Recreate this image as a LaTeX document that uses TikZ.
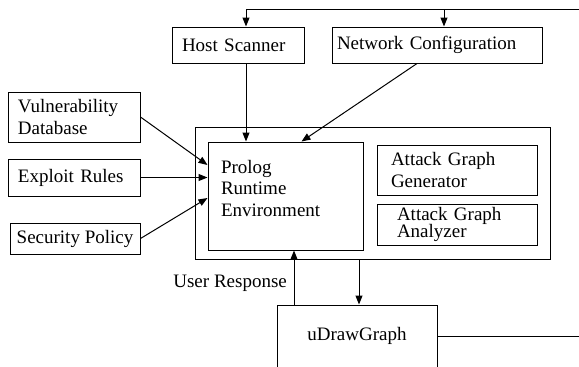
\documentclass[tikz,border=0pt]{standalone}
\usepackage{fontspec}
\setmainfont{Liberation Serif}
\usetikzlibrary{arrows.meta,calc}
\tikzset{
  blk/.style={draw, rectangle, align=left, inner ysep=0pt},
  arr/.style={-{Triangle[length=4.5pt,width=3.5pt]}},
  frm/.style={draw, rectangle, inner sep=0pt},
}

\begin{document}
\begin{tikzpicture}[x=0.5pt,y=-0.5pt,line width=0.5pt,font=\fontsize{9.5}{10.8}\selectfont]
  \useasboundingbox (0,0) rectangle (579,366);
  \clip (0,0) rectangle (579,366);
  \node[blk,minimum height=18pt,text width=56pt,inner xsep=5pt] (hs) at (238,45) {Host Scanner};
  \node[blk,minimum height=18pt,text width=100pt,inner xsep=2.5pt] (nc) at (437,45) {Network Configuration};
  \node[blk,minimum height=25pt,text width=56pt,inner xsep=5pt] (vd) at (74,117) {Vulnerability\\Database};
  \node[blk,minimum height=18.5pt,text width=56pt,inner xsep=5pt] (er) at (74,177.5) {Exploit Rules};
  \node[blk,minimum height=15.5pt,minimum width=65pt,inner xsep=0pt] (sp) at (75,238.5) {Security Policy};
  \node[frm,minimum width=177.5pt,minimum height=66pt] (rt) at (372.5,193) {};
  \node[blk,minimum height=54pt,text width=64.5pt,inner xsep=6.5pt,text depth=29.5pt] (pr) at (285.5,196) {Prolog\\Runtime\\Environment};
  \node[blk,minimum height=25pt,text width=66pt,inner xsep=7pt] (agg) at (457,170) {Attack Graph\\Generator};
  \node[blk,minimum height=20.5pt,text width=60pt,inner xsep=10pt] (aga) at (457,224.5) {Attack Graph\\[-2pt]Analyzer};
  \node[frm,minimum width=80pt,minimum height=31pt] (ud) at (357,336) {uDrawGraph};
  \coordinate (lpR) at (579,9);
  \coordinate (lpA) at (246,9);
  \coordinate (lpB) at (444,9);
  \coordinate (outR) at (579,337);
  \draw (lpR) -- (lpA);
  \draw[arr] (lpA) -- (lpA |- hs.north);
  \draw[arr] (lpB) -- (lpB |- nc.north);
  \draw[arr] (lpA |- hs.south) -- (lpA |- pr.north);
  \draw[arr] ([xshift=-10pt]nc.south) -- ([xshift=8pt]pr.north);
  \draw[arr] (vd.east) -- ([yshift=15.5pt]pr.west);
  \draw[arr] (er.east) -- (er.east -| pr.west);
  \draw[arr] (sp.east) -- ([yshift=-1pt]pr.west);
  \draw[arr] ([xshift=-31.5pt]ud.north) -- ([xshift=-31.5pt]ud.north |- pr.south)
    node[pos=0.4,left] (ur) {User Response};
  \draw[arr] ([xshift=-6.75pt]rt.south) -- ([xshift=-6.75pt]rt.south |- ud.north);
  \draw (ud.east) -- (ud.east -| outR);
\end{tikzpicture}
\end{document}
